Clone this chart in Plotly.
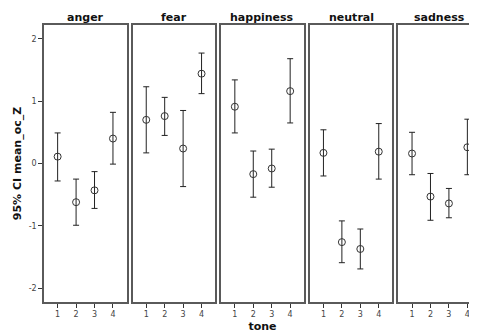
import plotly.graph_objects as go
from plotly.subplots import make_subplots

emotions = ["anger", "fear", "happiness", "neutral", "sadness"]
tones = [1, 2, 3, 4]
means = {
    "anger":     [0.11, -0.62, -0.43, 0.40],
    "fear":      [0.70, 0.76, 0.24, 1.44],
    "happiness": [0.91, -0.17, -0.08, 1.16],
    "neutral":   [0.17, -1.26, -1.37, 0.19],
    "sadness":   [0.16, -0.53, -0.64, 0.26],
}
upper = {
    "anger":     [0.49, -0.25, -0.13, 0.82],
    "fear":      [1.23, 1.06, 0.85, 1.77],
    "happiness": [1.34, 0.20, 0.23, 1.68],
    "neutral":   [0.54, -0.92, -1.05, 0.64],
    "sadness":   [0.50, -0.16, -0.40, 0.71],
}
lower = {
    "anger":     [-0.28, -0.99, -0.72, -0.01],
    "fear":      [0.17, 0.45, -0.37, 1.12],
    "happiness": [0.49, -0.54, -0.38, 0.65],
    "neutral":   [-0.20, -1.59, -1.69, -0.25],
    "sadness":   [-0.18, -0.91, -0.87, -0.18],
}
y_ticks = [-2, -1, 0, 1, 2]
y_ticklabels = ["-2", "-1", "0", "1", "2"]

FONT = "DejaVu Sans"
# page body has an 8px margin; compensate so the page matches 477x336
W, H = 469, 328
ML, MR, MT, MB = 36, 0, 17, 34
plot_w = W - ML - MR
panel_w = 82.6
gap = 6.0
px_per_unit = panel_w / 4.48

fig = make_subplots(rows=1, cols=5, shared_yaxes=True, subplot_titles=emotions,
                    horizontal_spacing=0.01)

for i, emo in enumerate(emotions):
    m = means[emo]
    ep = [u - v for u, v in zip(upper[emo], m)]
    em = [v - l for v, l in zip(m, lower[emo])]
    fig.add_trace(go.Scatter(
        x=tones, y=m, mode="markers",
        marker=dict(symbol="circle-open", size=7, color="#333333", line=dict(width=1)),
        error_y=dict(type="data", symmetric=False, array=ep, arrayminus=em,
                     color="#222222", thickness=1, width=3),
        showlegend=False, hoverinfo="skip"), row=1, col=i + 1)

    x0 = i * (panel_w + gap)
    x1 = min(x0 + panel_w, plot_w)
    width_px = x1 - x0
    xr = [0.26, 0.26 + width_px / px_per_unit]
    axname = "xaxis" if i == 0 else f"xaxis{i+1}"
    fig.layout[axname].update(
        domain=[x0 / plot_w, x1 / plot_w], range=xr, tickvals=tones,
        ticks="outside", ticklen=4, tickwidth=1, tickcolor="#333333",
        showline=True, mirror=True, linecolor="#5a5a5a", linewidth=1.5,
        showgrid=False, zeroline=False,
        tickfont=dict(family=FONT, size=8, color="#444444"))
    yname = "yaxis" if i == 0 else f"yaxis{i+1}"
    fig.layout[yname].update(
        range=[-2.22, 2.22], showgrid=False, zeroline=False,
        showline=True, mirror=(i < 4), linecolor="#5a5a5a", linewidth=1.5)

fig.layout.yaxis.update(tickvals=y_ticks, ticktext=y_ticklabels, ticks="outside",
                        ticklen=4, tickwidth=1, tickcolor="#333333",
                        tickfont=dict(family=FONT, size=8, color="#444444"),
                        title=dict(text="95% CI mean_oc_Z", standoff=5,
                                   font=dict(family=FONT, size=11, color="#111111", weight="bold")))
fig.layout.xaxis3.update(title=dict(text="tone", standoff=4,
                                    font=dict(family=FONT, size=11, color="#111111", weight="bold")))

for i, ann in enumerate(fig.layout.annotations):
    ann.font = dict(family=FONT, size=11, color="#111111", weight="bold")
    ann.yshift = -1
    axname = "xaxis" if i == 0 else f"xaxis{i+1}"
    d = fig.layout[axname].domain
    if i == 4:
        ann.x = (d[0] + (d[0] + panel_w / plot_w)) / 2
    else:
        ann.x = (d[0] + d[1]) / 2

fig.update_layout(width=W, height=H, margin=dict(l=ML, r=MR, t=MT, b=MB),
                  paper_bgcolor="white", plot_bgcolor="white",
                  font=dict(family=FONT))
fig.write_html("out.html")
